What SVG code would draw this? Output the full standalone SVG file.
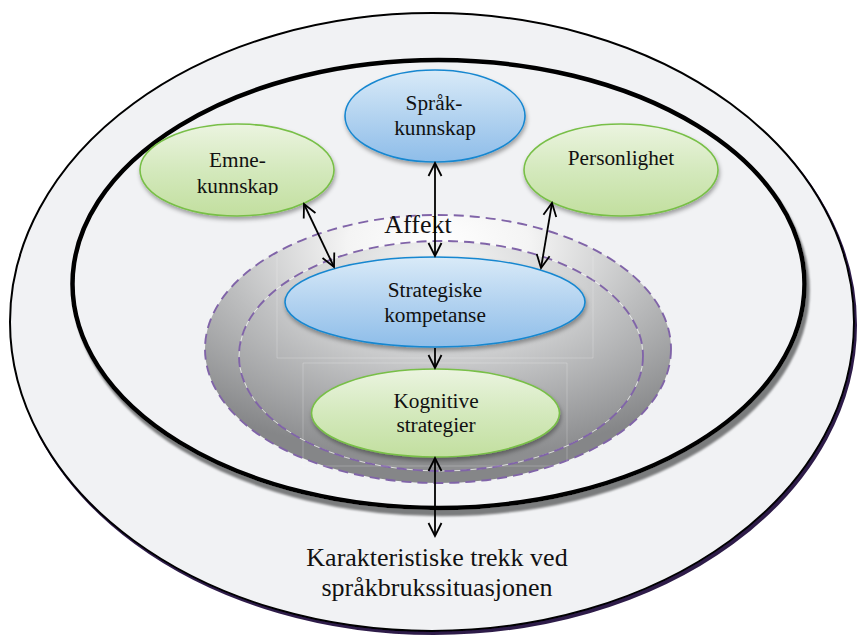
<svg xmlns="http://www.w3.org/2000/svg" width="859" height="636" viewBox="0 0 859 636">
  <style>
    .lbl { font-family: "Liberation Serif", "Times New Roman", serif; font-size: 21.3px; fill: #111; text-anchor: middle; }
    .big { font-family: "Liberation Serif", "Times New Roman", serif; font-size: 26px; fill: #111; text-anchor: middle; }
    .blue { fill: url(#gBlue); stroke: #1787d0; stroke-width: 1.6; filter: url(#nodeShadow); }
    .green { fill: url(#gGreen); stroke: #78bf47; stroke-width: 1.6; filter: url(#nodeShadow); }
    .dash { fill: none; stroke: #8064a8; stroke-width: 1.9; stroke-dasharray: 10 6; }
    .conn { fill: none; stroke: #000; stroke-width: 1.8; }
    .ghost { fill: none; stroke: #ffffff; stroke-opacity: 0.22; stroke-width: 1; }
  </style>
  <defs>
    <linearGradient id="gBlue" x1="0" y1="0" x2="0" y2="1">
      <stop offset="0" stop-color="#d9eaf8"/>
      <stop offset="0.5" stop-color="#b3d3f0"/>
      <stop offset="1" stop-color="#8ebde9"/>
    </linearGradient>
    <linearGradient id="gGreen" x1="0" y1="0" x2="0" y2="1">
      <stop offset="0" stop-color="#ebf4e0"/>
      <stop offset="0.5" stop-color="#d4e9bd"/>
      <stop offset="1" stop-color="#c2df9f"/>
    </linearGradient>
    <radialGradient id="gAffekt" cx="0.5" cy="0.12" r="0.78" fx="0.5" fy="0.1">
      <stop offset="0" stop-color="#ffffff"/>
      <stop offset="0.25" stop-color="#f4f4f4"/>
      <stop offset="0.6" stop-color="#bdbebf"/>
      <stop offset="1" stop-color="#858688"/>
    </radialGradient>
    <radialGradient id="gCore" cx="0.5" cy="0.15" r="0.8" fx="0.5" fy="0.1">
      <stop offset="0" stop-color="#f6f6f6"/>
      <stop offset="0.45" stop-color="#cfd0d1"/>
      <stop offset="1" stop-color="#8d8e90"/>
    </radialGradient>
    <filter id="nodeShadow" x="-20%" y="-20%" width="140%" height="160%">
      <feDropShadow dx="1" dy="3" stdDeviation="2" flood-color="#000" flood-opacity="0.35"/>
    </filter>
    <filter id="outerShadow" x="-5%" y="-5%" width="110%" height="110%">
      <feDropShadow dx="2" dy="3" stdDeviation="0.6" flood-color="#2d1a4a" flood-opacity="1"/>
    </filter>
    <filter id="ringShadow" x="-5%" y="-5%" width="110%" height="115%">
      <feDropShadow dx="3" dy="6" stdDeviation="1.2" flood-color="#7a7b7d" flood-opacity="1"/>
    </filter>
    <marker id="head" viewBox="-15 -8 17 16" refX="0" refY="0" markerWidth="17" markerHeight="16" markerUnits="userSpaceOnUse" orient="auto-start-reverse" overflow="visible">
      <path d="M-13,-6.5 L0,0 L-13,6.5" fill="none" stroke="#000" stroke-width="1.8"/>
    </marker>
    <clipPath id="emneClip">
      <rect x="140" y="120" width="200" height="75"/>
    </clipPath>
  </defs>

  <rect width="859" height="636" fill="#ffffff"/>

  <!-- situation ring -->
  <g id="situasjon">
    <ellipse cx="432" cy="322" rx="422" ry="309" fill="#f1f2f4" stroke="#000" stroke-width="2" filter="url(#outerShadow)"/>
    <text class="big" x="437" y="566">Karakteristiske trekk ved</text>
    <text class="big" x="437" y="596">språkbrukssituasjonen</text>
  </g>

  <!-- language ability ring -->
  <g id="sprakevne">
    <ellipse cx="438.5" cy="284" rx="366" ry="224" fill="#f1f2f4" stroke="#000" stroke-width="4.5" filter="url(#ringShadow)"/>
  </g>

  <!-- affect layer -->
  <g id="affekt">
    <ellipse cx="438" cy="349" rx="233" ry="134" fill="url(#gAffekt)"/>
    <ellipse cx="441" cy="356" rx="202" ry="115" fill="url(#gCore)" stroke="#ffffff" stroke-opacity="0.7" stroke-width="1"/>
    <ellipse class="dash" cx="438" cy="349" rx="233" ry="134"/>
    <ellipse class="dash" cx="441" cy="356" rx="202" ry="115"/>
    <path class="ghost" d="M277,256 V358 H593 V256"/>
    <path class="ghost" d="M303,466 V363 H567 V466 Z"/>
    <text class="big" x="418" y="233">Affekt</text>
  </g>

  <!-- nodes -->
  <g id="sprakkunnskap">
    <ellipse class="blue" cx="435" cy="116" rx="90" ry="46"/>
    <text class="lbl" x="434" y="110">Språk-</text>
    <text class="lbl" x="435" y="135">kunnskap</text>
  </g>
  <g id="emnekunnskap">
    <ellipse class="green" cx="237" cy="170" rx="97" ry="46"/>
    <g clip-path="url(#emneClip)">
      <text class="lbl" x="237.5" y="167">Emne-</text>
      <text class="lbl" x="237.5" y="193">kunnskap</text>
    </g>
  </g>
  <g id="personlighet">
    <ellipse class="green" cx="621" cy="170" rx="97" ry="46"/>
    <text class="lbl" x="621" y="165">Personlighet</text>
  </g>
  <g id="strategisk">
    <ellipse class="blue" cx="435" cy="302" rx="150" ry="45"/>
    <text class="lbl" x="435" y="297">Strategiske</text>
    <text class="lbl" x="435" y="322">kompetanse</text>
  </g>
  <g id="kognitive">
    <ellipse class="green" cx="435.5" cy="413" rx="124" ry="44"/>
    <text class="lbl" x="436" y="408">Kognitive</text>
    <text class="lbl" x="436" y="432">strategier</text>
  </g>

  <!-- connectors -->
  <g id="connectors">
    <line class="conn" x1="435" y1="163" x2="435" y2="256" marker-start="url(#head)" marker-end="url(#head)"/>
    <line class="conn" x1="304" y1="204" x2="334" y2="267" marker-start="url(#head)" marker-end="url(#head)"/>
    <line class="conn" x1="552" y1="203" x2="541" y2="268" marker-start="url(#head)" marker-end="url(#head)"/>
    <line class="conn" x1="435" y1="348" x2="435" y2="368" marker-end="url(#head)"/>
    <line class="conn" x1="435" y1="458" x2="435" y2="536" marker-start="url(#head)" marker-end="url(#head)"/>
  </g>
</svg>
